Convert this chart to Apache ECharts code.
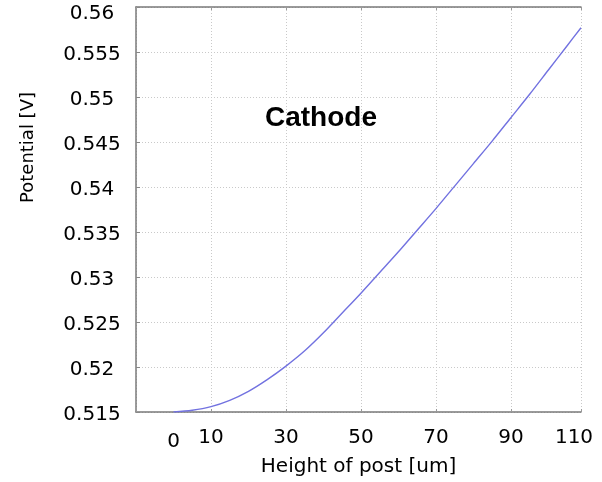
<!DOCTYPE html>
<html>
<head>
<meta charset="utf-8">
<script src="https://cdn.jsdelivr.net/npm/echarts@6/dist/echarts.min.js"></script>
<style>
html,body{margin:0;padding:0;background:#fff;}
#chart{width:602px;height:482px;}
</style>
</head>
<body>
<div id="chart"></div>
<script>
// Data
const heightOfPost = [0, 5, 10, 15, 20, 25, 30, 35, 40, 45, 50, 55, 60, 65, 70, 75, 80, 85, 90, 95, 100, 105, 108.7];
const potential = [0.5150, 0.5152, 0.5156, 0.5163, 0.5173, 0.5186, 0.5201, 0.5218, 0.5238, 0.5260, 0.5282, 0.5305, 0.5328, 0.5352, 0.5376, 0.5401, 0.5426, 0.5451, 0.5477, 0.5503, 0.5530, 0.5557, 0.5577];
const xTickLabels = ['0', '10', '30', '50', '70', '90', '110'];
const yTickLabels = ['0.515', '0.52', '0.525', '0.53', '0.535', '0.54', '0.545', '0.55', '0.555', '0.56'];
const annotation = 'Cathode';
const xTitle = 'Height of post [um]';
const yTitle = 'Potential [V]';

const X_MIN = -10, X_MAX = 108.7;
const Y_MIN = 0.515, Y_MAX = 0.56;

const chart = echarts.init(document.getElementById('chart'), null, {renderer: 'canvas'});
const tickFont = 'DejaVu Sans';
const axisGray = '#7a7a7a';
const gridStyle = {color: '#c9c9c9', type: [1, 2], width: 1};

chart.setOption({
  backgroundColor: '#ffffff',
  animation: false,
  title: {
    text: annotation,
    left: 265, top: 104, padding: 0,
    textStyle: {fontFamily: 'Liberation Sans', fontWeight: 'bold', fontSize: 28, color: '#000'}
  },
  grid: {left: 136, top: 7, right: 21, bottom: 70, containLabel: false},
  xAxis: [
    {
      type: 'value', min: X_MIN, max: X_MAX, interval: 20, position: 'bottom',
      name: xTitle, nameLocation: 'middle', nameGap: 45,
      nameTextStyle: {fontFamily: tickFont, fontSize: 20, color: '#000'},
      axisLine: {show: true, onZero: false, lineStyle: {color: axisGray, width: 1.5}},
      axisTick: {show: true, inside: true, length: 3, lineStyle: {color: '#999'}},
      splitLine: {show: true, lineStyle: gridStyle},
      axisLabel: {
        show: true, margin: 16, showMinLabel: true, showMaxLabel: true,
        fontFamily: tickFont, fontSize: 20, color: '#000',
        formatter: function (v) {
          if (v >= X_MAX - 0.01) return '{m|' + xTickLabels[6] + '}';
          if (v < 0) return '';
          const s = String(Math.round(v));
          return xTickLabels.indexOf(s) >= 0 ? s : '';
        },
        rich: {m: {fontFamily: tickFont, fontSize: 20, color: '#000', padding: [0, 14, 0, 0]}}
      }
    },
    {
      type: 'value', min: X_MIN, max: X_MAX, interval: 10, position: 'bottom',
      axisLine: {show: false, onZero: false}, axisTick: {show: false}, splitLine: {show: false},
      axisLabel: {
        show: true, margin: 20, showMinLabel: false, showMaxLabel: false,
        fontFamily: tickFont, fontSize: 20, color: '#000',
        formatter: function (v) { return Math.round(v) === 0 ? xTickLabels[0] : ''; }
      }
    },
    {
      type: 'value', min: X_MIN, max: X_MAX, interval: 20, position: 'top',
      axisLine: {show: true, onZero: false, lineStyle: {color: axisGray, width: 1.5}},
      axisTick: {show: true, inside: true, length: 3, lineStyle: {color: '#999'}},
      splitLine: {show: false}, axisLabel: {show: false}
    }
  ],
  yAxis: [
    {
      type: 'value', min: Y_MIN, max: Y_MAX, interval: 0.005, position: 'left',
      name: yTitle, nameLocation: 'middle', nameGap: 99, nameRotate: 90,
      nameTextStyle: {fontFamily: tickFont, fontSize: 18, color: '#000', padding: [0, 0, 0, 124]},
      axisLine: {show: true, onZero: false, lineStyle: {color: axisGray, width: 1.5}},
      axisTick: {show: true, inside: true, length: 4, lineStyle: {color: '#888'}},
      splitLine: {show: true, lineStyle: gridStyle},
      axisLabel: {
        show: true, margin: 44, align: 'center',
        fontFamily: tickFont, fontSize: 20, color: '#000',
        formatter: function (v) {
          const i = Math.round((v - Y_MIN) / 0.005);
          if (yTickLabels[i] === undefined) return '';
          return (i === yTickLabels.length - 1 ? '{t|' : '{n|') + yTickLabels[i] + '}';
        },
        rich: {
          t: {fontFamily: tickFont, fontSize: 20, color: '#000', padding: [14, 0, 0, 0]},
          n: {fontFamily: tickFont, fontSize: 20, color: '#000', padding: [6, 0, 0, 0]}
        }
      }
    }
  ],
  series: [
    {
      type: 'line', xAxisIndex: 0, yAxisIndex: 0,
      data: heightOfPost.map((x, i) => [x, potential[i]]),
      smooth: 0.3, showSymbol: false, symbol: 'none',
      lineStyle: {color: '#7272e0', width: 1.4},
      clip: true
    }
  ]
});
</script>
</body>
</html>
